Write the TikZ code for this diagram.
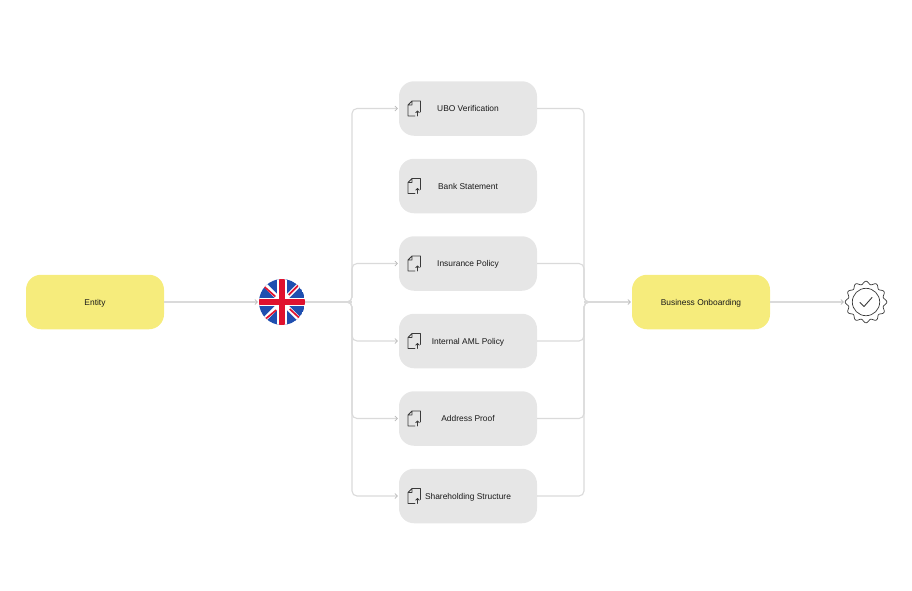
\documentclass[tikz,border=0pt]{standalone}
\usepackage{fontspec}
\setmainfont{Liberation Sans}
\usetikzlibrary{arrows.meta}
\definecolor{lineg}{HTML}{DADADA}
\definecolor{boxg}{HTML}{E6E6E6}
\definecolor{boxy}{HTML}{F6EC7C}
\definecolor{ukblue}{HTML}{1F4FB0}
\definecolor{ukred}{HTML}{E0122F}
\definecolor{ink}{HTML}{3A3A3A}
\tikzset{
  x=1pt,y=-1pt,
  basebox/.style={rectangle,rounded corners=15pt,minimum width=138pt,minimum height=54.5pt,inner sep=0pt,font=\fontsize{8.4}{10}\selectfont,text=black!90,text depth=0pt},
  docbox/.style={basebox,fill=boxg},
  mainbox/.style={basebox,fill=boxy},
  conn/.style={draw=lineg,line width=1.1pt,rounded corners=5pt},
  tip/.style={-{Straight Barb[length=2.5pt,width=5pt,line width=.7pt,color=lineg!85!black]}},
  docicon/.pic={
    \draw[ink,line width=.8pt,line join=round,line cap=round]
      (-2.5,-7.5) -- (6,-7.5) -- (6,3.5)
      (0.5,7.5) -- (-6.5,7.5) -- (-6.5,-3.5) -- (-2.5,-7.5) -- (-2.5,-3.5) -- (-6.5,-3.5)
      (3,7.5) -- (3,2.5) (1.2,4.2) -- (3,2.5) -- (4.8,4.2);
  }
}
\begin{document}
\begin{tikzpicture}
\useasboundingbox (0,0) rectangle (912,590);
\node[mainbox] (entity) at (95,302) {\raisebox{-.7pt}{Entity}};
\node[mainbox] (biz) at (701,302) {\raisebox{-.7pt}{Business Onboarding}};
\node[docbox] (ubo) at (468,108.5) {\raisebox{-.7pt}{UBO Verification}};
\node[docbox] (bank) at (468,186) {\raisebox{-.7pt}{Bank Statement}};
\node[docbox] (ins) at (468,263.5) {\raisebox{-.7pt}{Insurance Policy}};
\node[docbox] (aml) at (468,341) {\raisebox{-.7pt}{Internal AML Policy}};
\node[docbox] (addr) at (468,418.5) {\raisebox{-.7pt}{Address Proof}};
\node[docbox] (share) at (468,496) {\raisebox{-.7pt}{Shareholding Structure}};
\node[circle,minimum size=46pt,inner sep=0pt] (flag) at (282,302) {};
\node[circle,minimum size=42pt,inner sep=0pt] (badge) at (866,302) {};
\coordinate (lj) at (352,302);
\coordinate (rj) at (584,302);
% connectors
\draw[conn,tip] (entity.east) -- ([xshift=-1pt]flag.west);
\draw[conn] (flag.east) -- (lj);
\foreach \t in {ubo,ins,aml,addr,share}{
  \draw[conn,tip] ([xshift=-6pt]lj) -- (lj) |- ([xshift=-1pt]\t.west);
  \draw[conn] (\t.east) -| (rj) -- ([xshift=6pt]rj);
}
\draw[conn,tip] (rj) -- ([xshift=-1pt]biz.west);
\draw[conn,tip] (biz.east) -- ([xshift=-1pt]badge.west);
% flag
\begin{scope}[shift={(flag.center)}]
  \begin{scope}
    \clip (0,0) circle[radius=23];
    \fill[ukblue] (0,0) circle[radius=23];
    \draw[white,line width=4.5pt] (-20,-20) -- (20,20) (-20,20) -- (20,-20);
    \draw[ukred,line width=1.7pt]
      (-18.5,-16) -- (-6.7,-5.5)
      (6.7,-7) -- (17,-17.5)
      (-16.5,17) -- (-5.7,8)
      (7.7,7) -- (18,16.5);
    \fill[white] (-4.6,-23) rectangle (4.6,23);
    \fill[white] (-23,-4.4) rectangle (23,4.4);
    \fill[ukred] (-3.4,-23) rectangle (3.4,23);
    \fill[ukred] (-23,-3.2) rectangle (23,3.2);
  \end{scope}
\end{scope}
% badge
\begin{scope}[shift={(badge.center)}]
  \draw[ink,line width=.7pt,fill=white,domain=0:360,samples=180,smooth]
    plot ({(19.3+1.5*cos(12*\x))*cos(\x)},{(19.3+1.5*cos(12*\x))*sin(\x)}) -- cycle;
  \draw[ink,line width=.7pt] (0,0) circle[radius=13.7];
  \draw[ink,line width=.9pt,line join=round,line cap=round] (-6,0.5) -- (-2,4.5) -- (6,-4.5);
\end{scope}
% document icons
\pic at (414.5,108.5) {docicon};
\pic at (414.5,186) {docicon};
\pic at (414.5,263.5) {docicon};
\pic at (414.5,341) {docicon};
\pic at (414.5,418.5) {docicon};
\pic at (414.5,496) {docicon};
\end{tikzpicture}
\end{document}
